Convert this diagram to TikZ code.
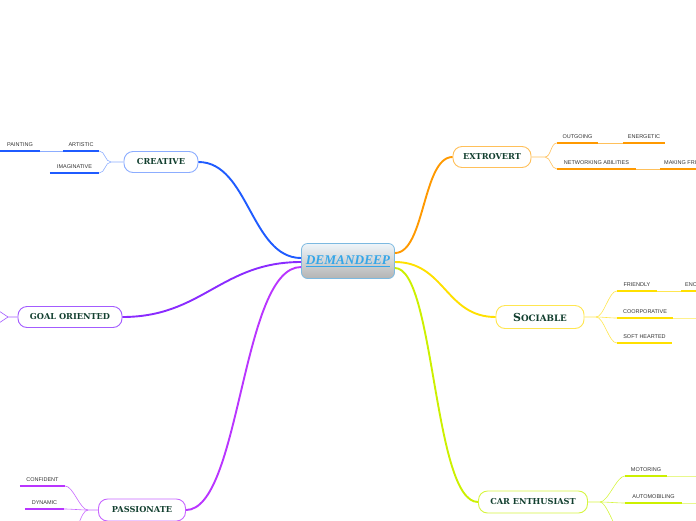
\documentclass[tikz,border=0pt]{standalone}
\usepackage{fontspec}
\usepackage{tikz}
\newfontfamily\topicfont{DejaVu Serif}
\newfontfamily\subfont{Liberation Sans}
\newfontfamily\rootfont{Liberation Serif}
\definecolor{creativeline}{HTML}{1F5BFF}
\definecolor{creativeedge}{HTML}{8CADFF}
\definecolor{extroline}{HTML}{FF9900}
\definecolor{extroedge}{HTML}{FFC05A}
\definecolor{sociline}{HTML}{FFE000}
\definecolor{sociedge}{HTML}{FFE650}
\definecolor{carline}{HTML}{CCF000}
\definecolor{caredge}{HTML}{D6F540}
\definecolor{goalline}{HTML}{8A2BFF}
\definecolor{goaledge}{HTML}{A35CFF}
\definecolor{passline}{HTML}{B935FF}
\definecolor{passedge}{HTML}{C766FF}
\definecolor{topictext}{HTML}{123F2F}
\definecolor{subtext}{HTML}{333333}
\definecolor{roottext}{HTML}{35A6E8}
\definecolor{rootedge}{HTML}{7CB9E0}
\definecolor{roottop}{HTML}{EEF5FA}
\definecolor{rootbottom}{HTML}{B4B4B4}

\begin{document}
\begin{tikzpicture}[
  x=1pt, y=-1pt,
  rootbox/.style={draw=rootedge, line width=0.8pt, rounded corners=6pt, top color=roottop,
                  bottom color=rootbottom, minimum width=93pt, minimum height=35pt,
                  font=\rootfont\bfseries\itshape\fontsize{13.3}{15}\selectfont, text=roottext},
  topic/.style={draw, fill=white, rounded corners=9pt, line width=0.9pt, minimum height=21pt,
                font=\topicfont\bfseries\fontsize{8.2}{10}\selectfont, text=topictext},
  sub/.style={anchor=south, inner xsep=0pt, inner ysep=4.5pt, text height=4pt, text depth=0pt,
              font=\subfont\fontsize{5.5}{6.5}\selectfont, text=subtext},
  mainlink/.style={line width=1.9pt},
  forklink/.style={line width=0.6pt},
  uline/.style={line width=1.2pt},
  faint/.style={line width=0.7pt, opacity=0.45}
]
\useasboundingbox (0,0) rectangle (696,520);
\clip (0,0) rectangle (696,520);

\node[rootbox] (root) at (348,261) {\underline{DEMANDEEP}};

\node[topic, draw=creativeedge, minimum width=74pt] (creative) at (161,162) {CREATIVE};
\node[topic, draw=extroedge, minimum width=78pt] (extrovert) at (492,157) {EXTROVERT};
\node[topic, draw=sociedge, minimum width=88pt, minimum height=23pt] (sociable) at (540,317)
  {{\fontsize{11}{12}\selectfont S}{\fontsize{8.8}{10}\selectfont OCIABLE}};
\node[topic, draw=caredge, minimum width=109pt, minimum height=22pt] (car) at (533,502) {CAR ENTHUSIAST};
\node[topic, draw=goaledge, minimum width=104pt] (goal) at (70,317) {GOAL ORIENTED};
\node[topic, draw=passedge, minimum width=87pt, minimum height=22pt] (passion) at (142,510) {PASSIONATE};

\draw[mainlink, creativeline] ([yshift=3pt]root.west) .. controls +(-50,0) and +(50,0) .. (creative.east);
\draw[mainlink, extroline] ([yshift=8pt]root.east) .. controls +(30,0) and +(-30,0) .. (extrovert.west);
\draw[mainlink, sociline] ([yshift=-1pt]root.east) .. controls +(50,0) and +(-50,0) .. (sociable.west);
\draw[mainlink, carline] ([yshift=-7pt]root.east) .. controls +(40,0) and +(-45,0) .. (car.west);
\draw[mainlink, goalline] ([yshift=-1pt]root.west) .. controls +(-80,0) and +(80,0) .. (goal.east);
\draw[mainlink, passline] ([yshift=-6pt]root.west) .. controls +(-60,0) and +(55,0) .. (passion.east);

\node[sub, minimum width=40pt] (painting) at (20,151) {PAINTING};
\node[sub, minimum width=36pt] (artistic) at (81,151) {ARTISTIC};
\node[sub, minimum width=49pt] (imaginative) at (74.5,173) {IMAGINATIVE};
\coordinate (cfork) at (111,162);
\draw[forklink, creativeedge] (creative.west) -- (cfork) .. controls +(-6,0) and +(6,0) .. (artistic.south east);
\draw[forklink, creativeedge] (cfork) .. controls +(-6,0) and +(6,0) .. (imaginative.south east);
\draw[forklink, creativeedge] (painting.south east) -- (artistic.south west);
\draw[uline, creativeline] (painting.south west) -- (painting.south east);
\draw[uline, creativeline] (artistic.south west) -- (artistic.south east);
\draw[uline, creativeline] (imaginative.south west) -- (imaginative.south east);

\node[sub, minimum width=41pt] (outgoing) at (577.5,143) {OUTGOING};
\node[sub, minimum width=42pt] (energetic) at (644,143) {ENERGETIC};
\node[sub, minimum width=79pt] (networking) at (596.5,169) {NETWORKING ABILITIES};
\node[sub, anchor=south west, inner xsep=4pt] (making) at (660,169) {MAKING FRIENDS};
\coordinate (efork) at (545,157);
\draw[forklink, extroedge] (extrovert.east) -- (efork) .. controls +(6,0) and +(-6,0) .. (outgoing.south west);
\draw[forklink, extroedge] (efork) .. controls +(6,0) and +(-6,0) .. (networking.south west);
\draw[forklink, extroedge] (outgoing.south east) -- (energetic.south west);
\draw[forklink, extroedge] (networking.south east) -- (making.south west);
\draw[uline, extroline] (outgoing.south west) -- (outgoing.south east);
\draw[uline, extroline] (energetic.south west) -- (energetic.south east);
\draw[uline, extroline] (networking.south west) -- (networking.south east);
\draw[uline, extroline] (making.south west) -- (making.south east);

\node[sub, minimum width=40pt] (friendly) at (637,291) {FRIENDLY};
\node[sub, anchor=south west, inner xsep=4pt] (encouraging) at (681,291) {ENCOURAGING};
\node[sub, minimum width=56pt] (coorporative) at (645,318) {COORPORATIVE};
\node[sub, minimum width=55pt] (softhearted) at (644.5,343) {SOFT HEARTED};
\coordinate (sfork) at (596,317);
\coordinate (coormore) at (700,318);
\draw[forklink, sociedge] (sociable.east) -- (sfork) .. controls +(8,0) and +(-8,0) .. (friendly.south west);
\draw[forklink, sociedge] (sfork) .. controls +(8,0) and +(-8,0) .. (coorporative.south west);
\draw[forklink, sociedge] (sfork) .. controls +(8,0) and +(-8,0) .. (softhearted.south west);
\draw[forklink, sociedge] (friendly.south east) -- (encouraging.south west);
\draw[faint, sociline] (coorporative.south east) -- (coormore);
\draw[uline, sociline] (friendly.south west) -- (friendly.south east);
\draw[uline, sociline] (encouraging.south west) -- (encouraging.south east);
\draw[uline, sociline] (coorporative.south west) -- (coorporative.south east);
\draw[uline, sociline] (softhearted.south west) -- (softhearted.south east);

\node[sub, minimum width=42pt] (motoring) at (646,476) {MOTORING};
\node[sub, minimum width=57pt] (automobiling) at (653.5,503) {AUTOMOBILING};
\coordinate (gfork) at (600,502);
\coordinate (carmore) at (628,545);
\coordinate (motmore) at (700,476);
\coordinate (automore) at (700,503);
\draw[forklink, caredge] (car.east) -- (gfork) .. controls +(8,0) and +(-8,0) .. (motoring.south west);
\draw[forklink, caredge] (gfork) .. controls +(8,0) and +(-8,0) .. (automobiling.south west);
\draw[forklink, caredge] (gfork) .. controls +(8,0) and +(-8,0) .. (carmore);
\draw[faint, carline] (motoring.south east) -- (motmore);
\draw[faint, carline] (automobiling.south east) -- (automore);
\draw[uline, carline] (motoring.south west) -- (motoring.south east);
\draw[uline, carline] (automobiling.south west) -- (automobiling.south east);

\coordinate (gofork) at (8,317);
\coordinate (goalmore1) at (-4,309);
\coordinate (goalmore2) at (-4,325);
\draw[forklink, goaledge] (goal.west) -- (gofork) -- (goalmore1);
\draw[forklink, goaledge] (gofork) -- (goalmore2);

\node[sub, minimum width=45pt] (confident) at (42.5,486) {CONFIDENT};
\node[sub, minimum width=39pt] (dynamic) at (44.5,509) {DYNAMIC};
\coordinate (pfork) at (88,510);
\coordinate (passmore) at (70,540);
\draw[forklink, passedge] (passion.west) -- (pfork) .. controls +(-8,0) and +(8,0) .. (confident.south east);
\draw[forklink, passedge] (pfork) .. controls +(-8,0) and +(8,0) .. (dynamic.south east);
\draw[forklink, passedge] (pfork) .. controls +(-8,0) and +(6,0) .. (passmore);
\draw[uline, passline] (confident.south west) -- (confident.south east);
\draw[uline, passline] (dynamic.south west) -- (dynamic.south east);
\end{tikzpicture}
\end{document}
